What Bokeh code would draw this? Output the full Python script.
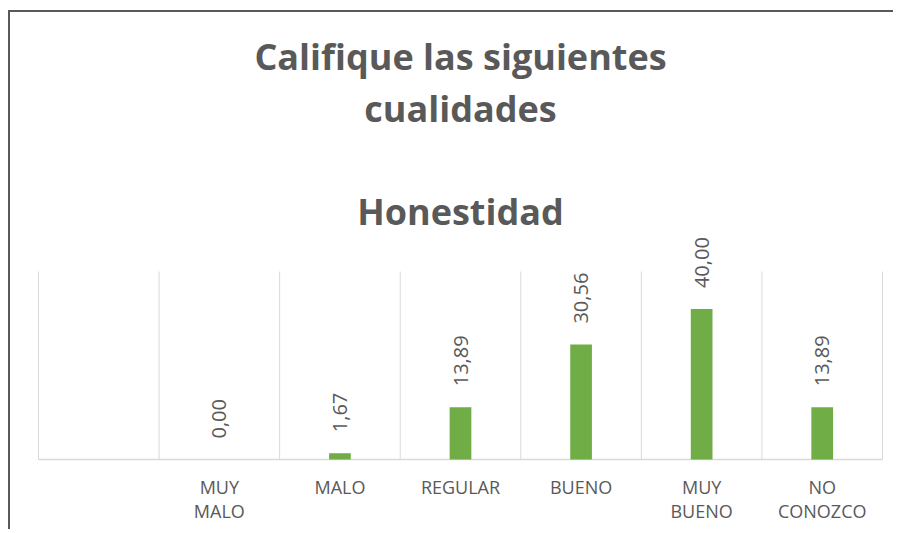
from bokeh.plotting import figure
from bokeh.models import Range1d, ColumnDataSource
from bokeh.core.properties import value
from bokeh.embed import file_html
from bokeh.resources import INLINE
import math

# ---- data ----
categories = ["", "MUY\nMALO", "MALO", "REGULAR", "BUENO", "MUY\nBUENO", "NO\nCONOZCO"]
values = [None, 0.00, 1.67, 13.89, 30.56, 40.00, 13.89]
title_lines = ["Califique las siguientes", "cualidades"]
subtitle = "Honestidad"
y_max = 50

def fmt(v):
    return ("%.2f" % v).replace(".", ",")

xs, tops, labels = [], [], []
for i, v in enumerate(values):
    if v is None:
        continue
    xs.append(i + 0.5)
    tops.append(v)
    labels.append(fmt(v))
bars = ColumnDataSource(dict(x=xs, top=tops, label=labels))
cats = ColumnDataSource(dict(x=[i + 0.5 for i in range(len(categories))], y=[0] * len(categories),
                             label=categories))

# ---- layout (canvas pixels) ----
W, H = 885, 519
PL, PR, PT, PB = 28, 872, 259, 447   # plot-area box inside the canvas
n = len(categories)
xpx = (PR - PL) / n
ypx = (PB - PT) / y_max

def ydata(cy):
    return (PB - cy) / ypx

p = figure(width=W, height=H, output_backend="svg", toolbar_location=None,
           x_range=Range1d(-PL / xpx, n + (W - PR) / xpx),
           y_range=Range1d(-(H - PB) / ypx, y_max + PT / ypx),
           x_axis_type=None, y_axis_type=None,
           min_border=0, min_border_left=0, min_border_right=0,
           min_border_top=0, min_border_bottom=0)
p.styles = {"margin-left": "8px", "margin-top": "10px",
            "border-left": "2px solid #595959", "border-top": "2px solid #595959"}
p.outline_line_color = None
p.grid.visible = False
p.background_fill_color = "white"
p.border_fill_color = "white"

grid_color = "#D9D9D9"
bounds = list(range(n + 1))
p.segment(x0=bounds, y0=[0] * len(bounds), x1=bounds, y1=[y_max] * len(bounds),
          line_color=grid_color, line_width=1)
p.segment(x0=[0], y0=[0], x1=[n], y1=[0], line_color=grid_color, line_width=1.5)

p.vbar(x="x", top="top", width=0.18, source=bars, fill_color="#70AD47", line_color=None)

p.text(x="x", y="top", text="label", source=bars, angle=math.pi / 2,
       text_align="left", text_baseline="middle", y_offset=-21,
       text_font=value("Open Sans"), text_font_size="20px", text_color="#595959")

p.text(x="x", y="y", text="label", source=cats, text_align="center",
       text_baseline="top", y_offset=15, text_line_height=1.02,
       text_font=value("Open Sans"), text_font_size="18px", text_color="#595959")

mid = n / 2
for txt, cy in [(title_lines[0], 44), (title_lines[1], 96), (subtitle, 199)]:
    p.text(x=[mid], y=[ydata(cy)], text=[txt], text_align="center",
           text_baseline="alphabetic", text_font=value("Open Sans"),
           text_font_style="bold", text_font_size="36px", text_color="#595959")

open("out.html", "w").write(file_html(p, INLINE))
